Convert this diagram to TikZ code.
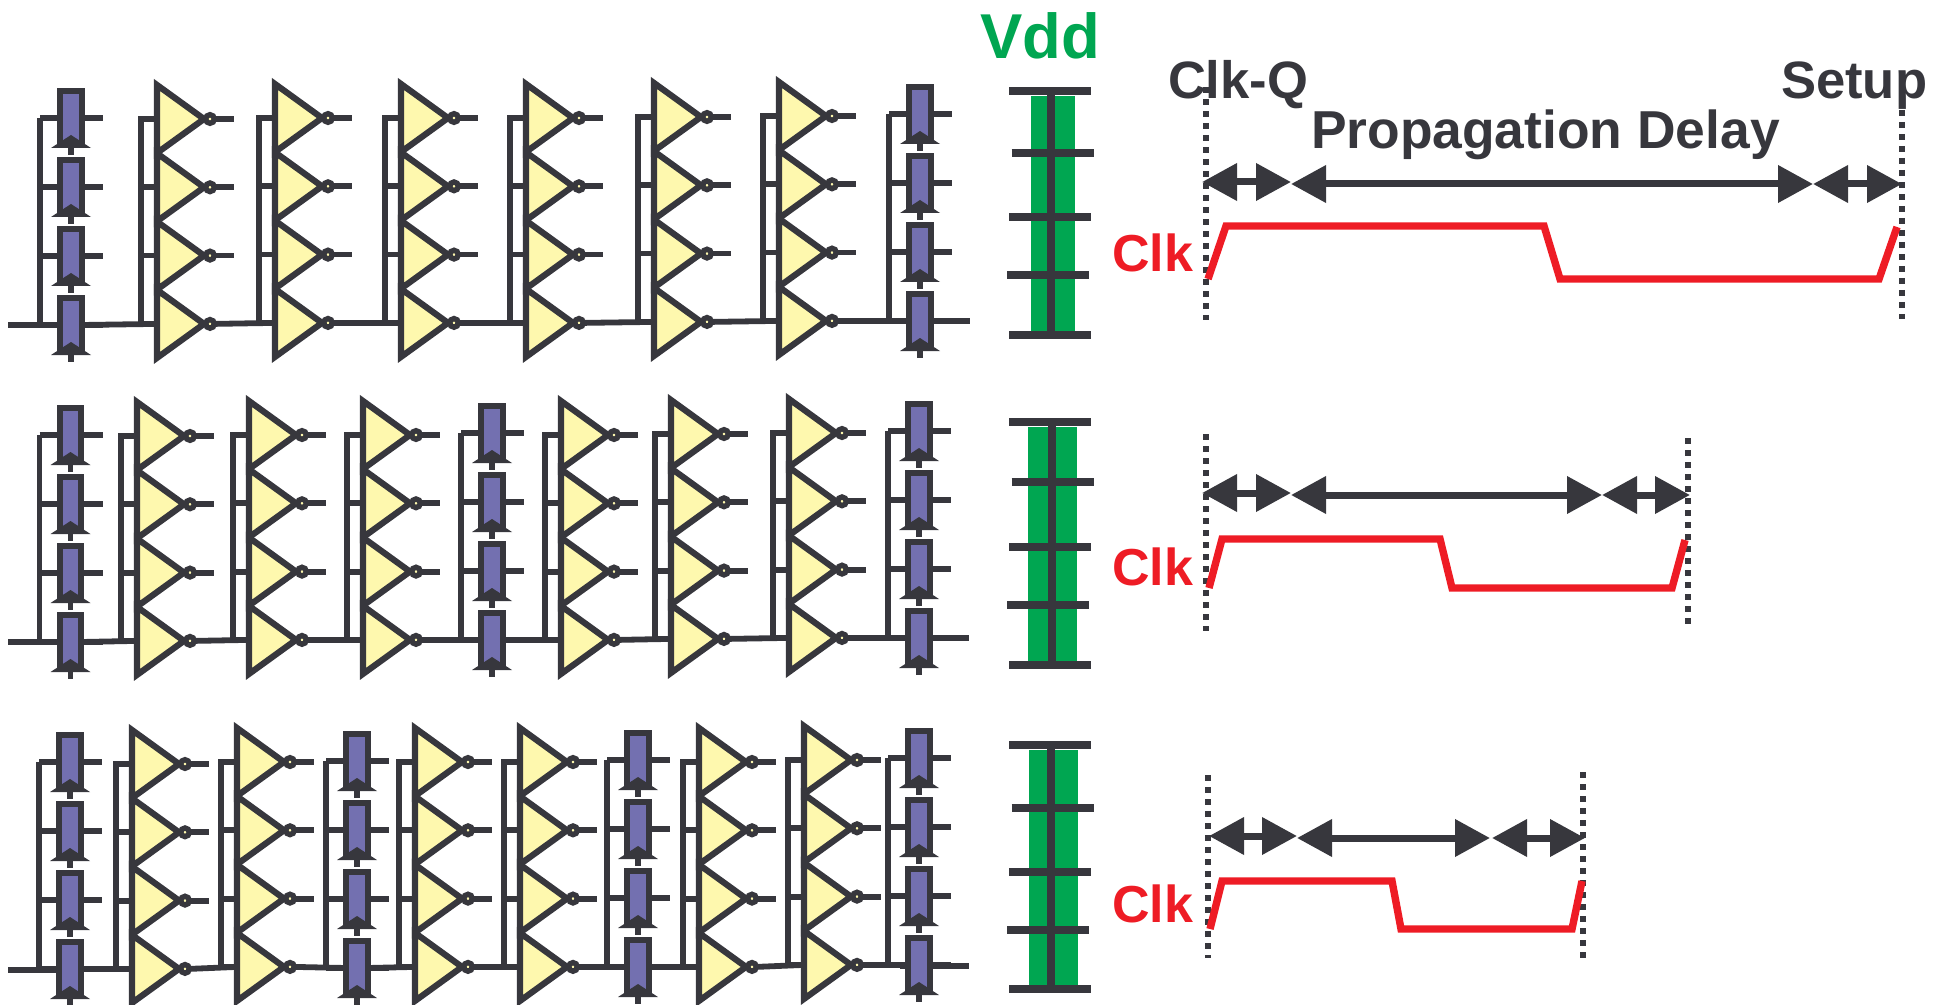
\documentclass[tikz,border=0pt]{standalone}
\usepackage{fontspec}
\setmainfont{Liberation Sans}
\usetikzlibrary{shapes.geometric,arrows.meta}

\definecolor{wirecol}{HTML}{37373D}
\definecolor{invcol}{HTML}{FEF8AE}
\definecolor{ffcol}{HTML}{7370B0}
\definecolor{vddcol}{HTML}{00A651}
\definecolor{clkcol}{HTML}{EE1C25}

\tikzset{
  wire/.style={draw=wirecol,line width=2.9pt},
  invgate/.style={isosceles triangle,isosceles triangle stretches,draw=wirecol,fill=invcol,
    line width=3.1pt,miter limit=10,minimum width=34pt,minimum height=23.5pt,inner sep=0pt,outer sep=0pt,anchor=lower side},
  bubble/.style={circle,draw=wirecol,fill=invcol,line width=2.7pt,minimum size=4.3pt,inner sep=0pt,outer sep=0pt},
  ffbox/.style={rectangle,draw=wirecol,fill=ffcol,line width=3pt,minimum width=10.7pt,minimum height=27.2pt,inner sep=0pt,outer sep=0pt},
  railbar/.style={draw=wirecol,line width=4.2pt},
  dotline/.style={draw=wirecol,line width=3pt,dash pattern=on 3pt off 3pt},
  span/.style={draw=wirecol,line width=3.5pt,{Triangle[length=17.5pt,width=18pt]}-{Triangle[length=17.5pt,width=18pt]}},
  clkline/.style={draw=clkcol,line width=3.7pt},
  lbl/.style={inner sep=0pt,outer sep=0pt,anchor=base west,text=wirecol,font=\bfseries\fontsize{26.3}{26.3}\selectfont},
  clklbl/.style={lbl,text=clkcol,font=\bfseries\fontsize{26}{26}\selectfont}
}

% four inverters: name, left x, y of first
\newcommand{\invstack}[3]{
  \coordinate (#1-bus) at (#2-17,#3+204.9);
  \foreach \k in {1,2,3,4}{
    \pgfmathsetmacro{\yk}{#3+(\k-1)*68.3}
    \node[invgate] (#1-\k) at (#2-1,\yk) {};
    \node[bubble] (#1-\k b) at (#2+52,\yk) {};
    \coordinate (#1-\k o) at (#2+76,\yk);
    \draw[wire] (#1-bus) |- (#1-\k.lower side);
    \ifnum\k<4 \draw[wire] (#1-\k b.east) -- (#1-\k o); \fi
  }
  \coordinate (#1-in) at (#1-4.lower side);
  \coordinate (#1-out) at (#1-4b.east);
}

% four flip-flops: name, centre x, y of first
\newcommand{\ffstack}[3]{
  \coordinate (#1-bus) at (#2-31,#3+207);
  \foreach \k in {1,2,3,4}{
    \pgfmathsetmacro{\yk}{#3+(\k-1)*69}
    \coordinate (#1-\k i) at (#2-31,\yk);
    \coordinate (#1-\k o) at (#2+32,\yk);
    \coordinate (#1-\k t) at (#2,\yk+37);
    \draw[wire] (#1-bus) |- (#1-\k i);
    \draw[wire] (#1-\k i) -- (#1-\k o);
    \draw[wire] (#2,\yk) -- (#1-\k t);
    \node[ffbox] (#1-\k) at (#2,\yk) {};
    \fill[wirecol] (#2-20,\yk+30) -- (#2,\yk+17) -- (#2+20,\yk+30) -- cycle;
  }
  \coordinate (#1-in) at (#1-4.west);
  \coordinate (#1-out) at (#1-4.east);
}

% supply rail: green left, green right, line x, five bar y
\newcommand{\vddrail}[8]{
  \fill[vddcol] (#1,{#4+5}) rectangle (#2,#8);
  \draw[railbar] (#3,#4) -- (#3,#8);
  \draw[railbar] (1009,#4) -- (1091,#4);
  \draw[railbar] (1011.5,#5) -- (1093.5,#5);
  \draw[railbar] (1009,#6) -- (1091,#6);
  \draw[railbar] (1007,#7) -- (1089,#7);
  \draw[railbar] (1009,#8) -- (1091,#8);
}

\begin{document}
\begin{tikzpicture}[x=0.5pt,y=-0.5pt]
\useasboundingbox (0,0) rectangle (1946,1005);

% top row
\coordinate (tstart) at (8,325);
\coordinate (tend) at (970,321);
\draw[wire] (tstart) -- (71,325);
\draw[wire] (900,321) -- (tend);
\ffstack{tf1}{71}{118}
\invstack{ti1}{158}{119}
\invstack{ti2}{276}{118}
\invstack{ti3}{402}{118}
\invstack{ti4}{527}{118}
\invstack{ti5}{655}{117}
\invstack{ti6}{780}{116}
\ffstack{tf2}{920}{114}
\foreach \a/\b in {tf1/ti1,ti1/ti2,ti2/ti3,ti3/ti4,ti4/ti5,ti5/ti6,ti6/tf2}
  \draw[wire] (\a-out) -- (\b-in);

% middle row
\coordinate (mstart) at (8,642);
\coordinate (mend) at (969,638);
\draw[wire] (mstart) -- (70.5,642);
\draw[wire] (900,638) -- (mend);
\ffstack{mf1}{70.5}{435}
\invstack{mi1}{138}{436}
\invstack{mi2}{250}{435}
\invstack{mi3}{364}{435}
\ffstack{mf2}{492}{433}
\invstack{mi4}{562}{435}
\invstack{mi5}{672}{434}
\invstack{mi6}{790}{433}
\ffstack{mf3}{919}{431}
\foreach \a/\b in {mf1/mi1,mi1/mi2,mi2/mi3,mi3/mf2,mf2/mi4,mi4/mi5,mi5/mi6,mi6/mf3}
  \draw[wire] (\a-out) -- (\b-in);

% bottom row
\coordinate (bstart) at (8,970);
\coordinate (bend) at (969,966);
\draw[wire] (bstart) -- (70,970);
\draw[wire] (900,966) -- (bend);
\ffstack{bf1}{70}{762}
\invstack{bi1}{133}{764}
\invstack{bi2}{238}{762}
\ffstack{bf2}{357}{761}
\invstack{bi3}{416}{762}
\invstack{bi4}{521}{762}
\ffstack{bf3}{638}{760}
\invstack{bi5}{700}{762}
\invstack{bi6}{805}{760}
\ffstack{bf4}{919}{758}
\foreach \a/\b in {bf1/bi1,bi1/bi2,bi2/bf2,bf2/bi3,bi3/bi4,bi4/bf3,bf3/bi5,bi5/bi6,bi6/bf4}
  \draw[wire] (\a-out) -- (\b-in);

% rails
\vddrail{1031}{1075}{1051}{91}{153}{217}{275}{335}
\vddrail{1028}{1077}{1052}{422}{482}{547}{605}{665}
\vddrail{1029}{1078}{1051}{745}{808}{872}{930}{989}

\node[lbl,text=vddcol,font=\bfseries\fontsize{31.7}{31.7}\selectfont] (vdd) at (980,59) {Vdd};
\node[lbl] (clkq) at (1168,99) {Clk-Q};
\node[lbl,font=\bfseries\fontsize{26.7}{26.7}\selectfont] (prop) at (1311,149) {Propagation Delay};
\node[lbl] (setup) at (1781,99) {Setup};
\node[clklbl] (clka) at (1112,272) {Clk};
\node[clklbl] (clkb) at (1112,585) {Clk};
\node[clklbl] (clkc) at (1112,922) {Clk};

% top timing
\coordinate (ta) at (1206,87);
\coordinate (tb) at (1206,320);
\coordinate (tc) at (1902,110);
\coordinate (td) at (1902,319);
\draw[dotline] (ta) -- (tb);
\draw[dotline] (tc) -- (td);
\coordinate (t1) at (1202,182);
\coordinate (t2) at (1291,182);
\coordinate (t3) at (1291,184);
\coordinate (t4) at (1813,184);
\coordinate (t5) at (1902,184);
\draw[span] (t1) -- (t2);
\draw[span] (t3) -- (t4);
\draw[span] (t4) -- (t5);
\draw[clkline] (1208,279) -- (1226,226) -- (1544,226) -- (1560,279) -- (1879,279) -- (1897,227);

% middle timing
\coordinate (ma) at (1206,434);
\coordinate (mb) at (1206,631);
\coordinate (mc) at (1688,438);
\coordinate (md) at (1688,625);
\draw[dotline] (ma) -- (mb);
\draw[dotline] (mc) -- (md);
\coordinate (m1) at (1202,493);
\coordinate (m2) at (1291,493);
\coordinate (m3) at (1291,495);
\coordinate (m4) at (1602,495);
\coordinate (m5) at (1690,495);
\draw[span] (m1) -- (m2);
\draw[span] (m3) -- (m4);
\draw[span] (m4) -- (m5);
\draw[clkline] (1209,588) -- (1222,539) -- (1440,539) -- (1452,588) -- (1672,588) -- (1685,540);

% bottom timing
\coordinate (ba) at (1208,775);
\coordinate (bb) at (1208,958);
\coordinate (bc) at (1583,772);
\coordinate (bd) at (1583,958);
\draw[dotline] (ba) -- (bb);
\draw[dotline] (bc) -- (bd);
\coordinate (b1) at (1209,836);
\coordinate (b2) at (1297,836);
\coordinate (b3) at (1297,838);
\coordinate (b4) at (1490,838);
\coordinate (b5) at (1492,838);
\coordinate (b6) at (1585,838);
\draw[span] (b1) -- (b2);
\draw[span] (b3) -- (b4);
\draw[span] (b5) -- (b6);
\draw[clkline] (1210,929) -- (1222,881) -- (1392,881) -- (1401,929) -- (1572,929) -- (1582,881);

\end{tikzpicture}
\end{document}
